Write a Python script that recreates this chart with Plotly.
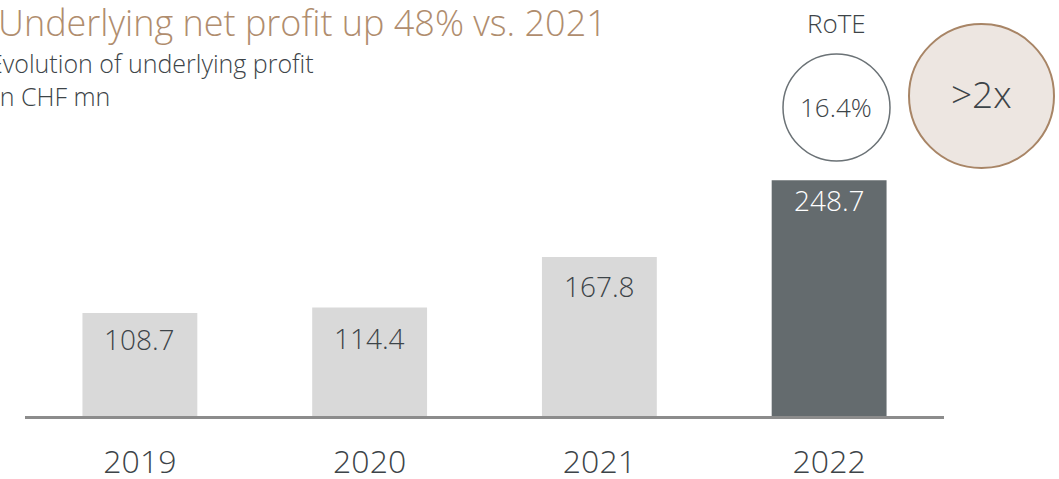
import plotly.graph_objects as go

# ---- data ----
years = ["2019", "2020", "2021", "2022"]
profit = [108.7, 114.4, 167.8, 248.7]

title_text = "Underlying net profit up 48% vs. 2021"
subtitle_lines = ["Evolution of underlying profit", "in CHF mn"]
rote_label = "RoTE"
rote_value = "16.4%"
multiple_text = ">2x"

# ---- styles ----
bar_colors = ["#d9d9d9", "#d9d9d9", "#d9d9d9", "#646b6e"]
label_colors = ["#3d4448", "#3d4448", "#3d4448", "#ffffff"]
label_shift = [-26, -30, -29, -20]

W, H = 1059, 479
ML, MR, MT, MB = 25, 115, 150, 63
PW, PH = W - ML - MR, H - MT - MB
PX_PER_UNIT = 0.948
YMAX = PH / PX_PER_UNIT

FONT = "Open Sans, Lato, Roboto, sans-serif"
DARK = "#3d4448"
TAN = "#b08d6e"


def px2x(px):
    return (px - ML) / PW


def py2y(py):
    return (H - MB - py) / PH


fig = go.Figure()
fig.add_trace(go.Bar(
    x=years, y=profit, marker=dict(color=bar_colors, line=dict(width=0)),
    width=0.5, hoverinfo="skip", showlegend=False,
))

annotations = []
for i, (v, c, s) in enumerate(zip(profit, label_colors, label_shift)):
    annotations.append(dict(
        x=i, y=v, xref="x", yref="y", text=f"{v:.1f}", showarrow=False,
        xanchor="center", yanchor="middle",
        yshift=s, font=dict(family=FONT, size=28, color=c, weight=300),
    ))

# title and subtitle
annotations.append(dict(
    x=px2x(-4), y=py2y(23), xref="paper", yref="paper", text=title_text,
    showarrow=False, xanchor="left", yanchor="middle",
    font=dict(family=FONT, size=36, color=TAN, weight=300),
))
for i, line in enumerate(subtitle_lines):
    annotations.append(dict(
        x=px2x(-13 if i == 0 else -8), y=py2y(63 + 33 * i), xref="paper", yref="paper",
        text=line, showarrow=False, xanchor="left", yanchor="middle",
        font=dict(family=FONT, size=25, color=DARK, weight=300),
    ))

# circles and their texts
center_txt = dict(xref="paper", yref="paper", showarrow=False,
                  xanchor="center", yanchor="middle")
annotations.append(dict(
    x=px2x(836), y=py2y(23), text=rote_label,
    font=dict(family=FONT, size=26, color=DARK, weight=300), **center_txt,
))
annotations.append(dict(
    x=px2x(836), y=py2y(107), text=rote_value,
    font=dict(family=FONT, size=26, color=DARK, weight=300), **center_txt,
))
annotations.append(dict(
    x=px2x(982), y=py2y(93), text=multiple_text,
    font=dict(family=FONT, size=37, color=DARK, weight=300), **center_txt,
))

shapes = [
    dict(type="circle", xref="paper", yref="paper",
         x0=px2x(783), x1=px2x(890), y0=py2y(161), y1=py2y(54),
         line=dict(color="#6b7276", width=1.5), fillcolor="#ffffff", layer="below"),
    dict(type="circle", xref="paper", yref="paper",
         x0=px2x(909), x1=px2x(1054), y0=py2y(168), y1=py2y(24),
         line=dict(color="#a88566", width=2), fillcolor="#ede6e1", layer="below"),
]

fig.update_layout(
    width=W, height=H, autosize=False,
    margin=dict(l=ML, r=MR, t=MT, b=MB, pad=0, autoexpand=False),
    paper_bgcolor="white", plot_bgcolor="rgba(0,0,0,0)",
    annotations=annotations, shapes=shapes,
    xaxis=dict(
        type="category", range=[-0.5, 3.5], showgrid=False, zeroline=False,
        showline=True, linecolor="#8c8c8c", linewidth=2.5,
        ticks="", ticklabelstandoff=16, automargin=False,
        tickfont=dict(family=FONT, size=32, color=DARK, weight=300),
        fixedrange=True,
    ),
    yaxis=dict(range=[0, YMAX], visible=False, fixedrange=True, automargin=False),
)

fig.write_html(
    "out.html",
    config={"displayModeBar": False},
    post_script="document.body.style.margin='0';document.body.style.overflow='hidden';",
)
